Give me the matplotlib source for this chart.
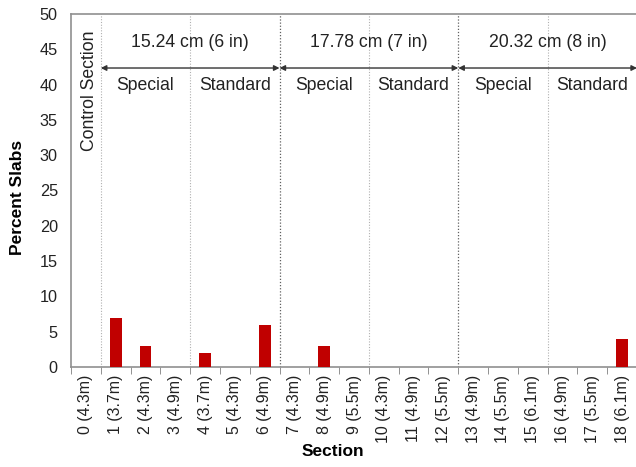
import numpy as np
import matplotlib.pyplot as plt

plt.rcParams['font.family'] = ['Liberation Sans', 'DejaVu Sans']

# section labels (number and slab length) and percent slabs cracked
sections = ["0 (4.3m)", "1 (3.7m)", "2 (4.3m)", "3 (4.9m)", "4 (3.7m)", "5 (4.3m)",
            "6 (4.9m)", "7 (4.3m)", "8 (4.9m)", "9 (5.5m)", "10 (4.3m)", "11 (4.9m)",
            "12 (5.5m)", "13 (4.9m)", "14 (5.5m)", "15 (6.1m)", "16 (4.9m)", "17 (5.5m)",
            "18 (6.1m)"]
percent = [0, 7, 3, 0, 2, 0, 6, 0, 3, 0, 0, 0, 0, 0, 0, 0, 0, 0, 4]

thickness = ["15.24 cm (6 in)", "17.78 cm (7 in)", "20.32 cm (8 in)"]
dowel = ["Special", "Standard"]

fig = plt.figure(figsize=(6.36, 4.67), dpi=100)
ax = fig.add_axes([71 / 636, 100 / 467, 566 / 636, 353 / 467])

x = np.arange(len(sections))
ax.bar(x, percent, width=0.4, color="#c00000", zorder=3)

ax.set_xlim(-0.5, len(sections) - 0.5)
ax.set_ylim(0, 50)
ax.set_yticks(np.arange(0, 51, 5))
ax.tick_params(axis="y", length=0, pad=9.5, labelsize=11.7, labelcolor="#222222")

ax.set_xticks(x)
ax.set_xticklabels(sections, rotation=90, fontsize=11.4, color="#222222")
ax.tick_params(axis="x", which="major", length=0, pad=5.5)
# tick marks sit between the categories
ax.set_xticks(np.arange(-0.5, len(sections), 1), minor=True)
ax.tick_params(axis="x", which="minor", length=5, color="#808080", direction="out")

for side in ["top", "left", "bottom", "right"]:
    ax.spines[side].set_color("#909090")
    ax.spines[side].set_linewidth(1.2)
ax.spines["right"].set_visible(False)

ax.set_ylabel("Percent Slabs", fontsize=12.5, fontweight="bold")
ax.yaxis.set_label_coords(-(71 - 17.5) / 566, (367 - 197.5) / 353)
ax.set_xlabel("Section", fontsize=12.5, fontweight="bold")
ax.xaxis.set_label_coords((333 - 71) / 566, -(452 - 367) / 353)
ax.xaxis.label.set_va("center")
ax.yaxis.label.set_va("center")

# group separators
for b in [0.5, 3.5, 9.5, 15.5]:
    ax.axvline(b, color="#b0b0b0", linestyle=(0, (1, 1.5)), linewidth=0.8, zorder=1)
for b in [6.5, 12.5]:
    ax.axvline(b, color="#606060", linestyle=(0, (1, 1.5)), linewidth=0.9, zorder=1)

for i, name in enumerate(thickness):
    left = 0.5 + 6 * i
    right = left + 6
    ax.annotate("", xy=(left, 42.35), xytext=(right, 42.35),
                arrowprops=dict(arrowstyle="<|-|>", color="#333333", lw=1,
                                mutation_scale=8, shrinkA=0, shrinkB=0))
    ax.text((left + right) / 2, 46.0, name, ha="center", va="center",
            fontsize=12.7, color="#222222")
    for j, d in enumerate(dowel):
        ax.text(left + 1.5 + 3 * j, 39.9, d, ha="center", va="center",
                fontsize=12.7, color="#222222")

ax.text(0.12, 47.7, "Control Section", rotation=90, ha="center", va="top",
        fontsize=12.7, color="#222222")

fig.savefig("out.png", dpi=100)
